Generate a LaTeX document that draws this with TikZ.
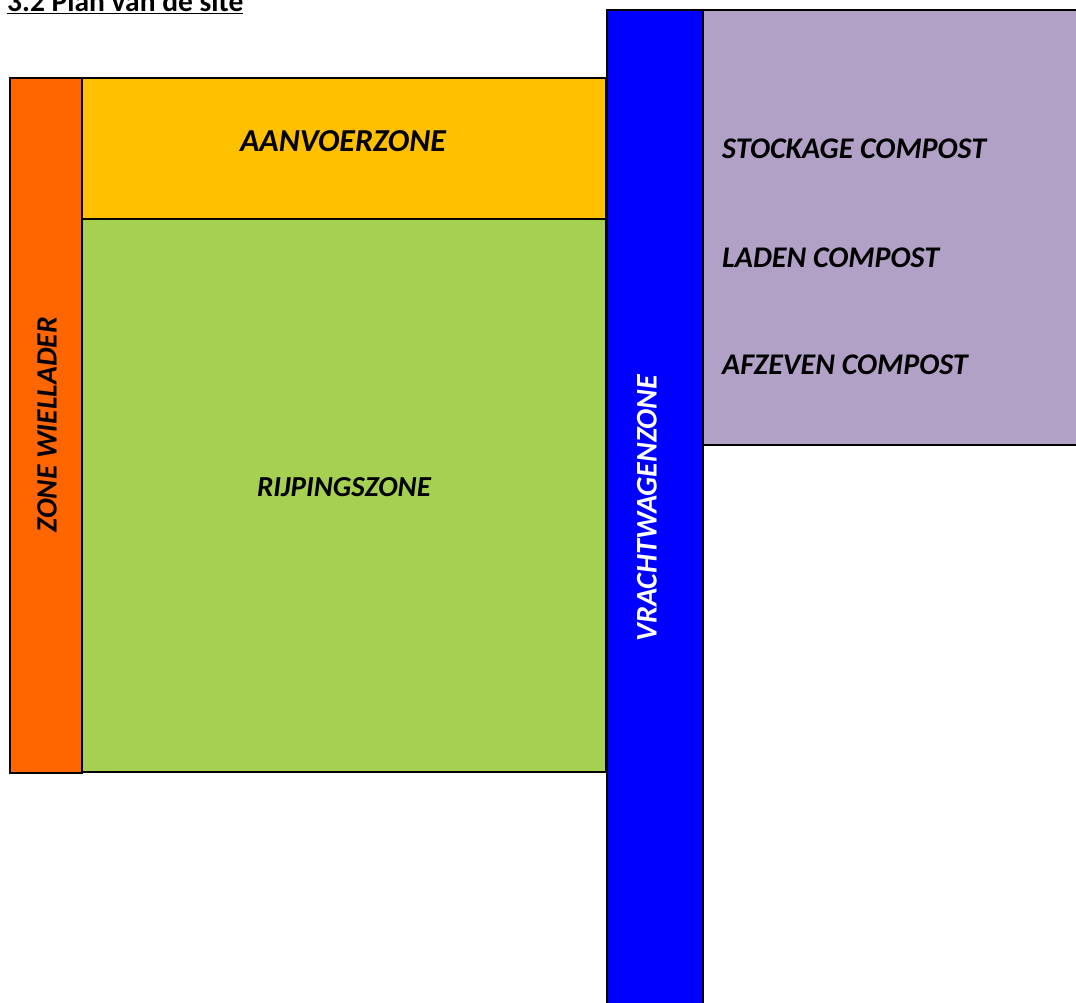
\documentclass[tikz,border=0pt]{standalone}
\usepackage{fontspec}
\setmainfont{Carlito}
\usetikzlibrary{positioning}
\tikzset{zone/.style = {draw = black, line width = 2},
         lbl/.style = {font = \bfseries\itshape\fontsize{30}{34}\selectfont, inner sep = 0}}
\definecolor{morange}{RGB}{255, 102, 0}
\definecolor{myellow}{RGB}{255, 192, 0}
\definecolor{mgreen}{RGB}{166, 208, 82}
\definecolor{mblue}{RGB}{0, 0, 255}
\definecolor{mpurple}{RGB}{177, 161, 199}

\begin{document}
\begin{tikzpicture}[x = 1pt, y = -1pt]
       \useasboundingbox (0, 0) rectangle (1076, 1003);

       \node [anchor = base west, inner sep = 0, font = \bfseries\fontsize{29.5}{34}\selectfont] (title) at (7, 12) {\underline{3.2 Plan van de site}};

       \draw [zone, fill = myellow] (82, 78) rectangle (606, 219);
       \draw [zone, fill = mgreen] (82, 219) rectangle (606, 772);
       \draw [zone, fill = morange] (10, 78) rectangle (82, 773);
       \draw [zone, fill = mpurple] (703, 10) rectangle (1080, 445);
       \draw [zone, fill = mblue] (607, 10) rectangle (703, 1010);

       \node [lbl, font = \bfseries\itshape\fontsize{32}{36}\selectfont] (aanvoer) at (343, 141) {AANVOERZONE};
       \node [lbl, font = \bfseries\itshape\fontsize{29}{33}\selectfont] (rijping) at (344, 487) {RIJPINGSZONE};
       \node [lbl, rotate = 90, font = \bfseries\itshape\fontsize{29.5}{34}\selectfont] (wiellader) at (47, 425) {ZONE WIELLADER};
       \node [lbl, rotate = 90, white] (vracht) at (647, 508) {VRACHTWAGENZONE};

       \node [lbl, anchor = west] (stockage) at (722, 149) {STOCKAGE COMPOST};
       \node [lbl, anchor = west] (laden) at (722, 258) {LADEN COMPOST};
       \node [lbl, anchor = west] (afzeven) at (722, 365) {AFZEVEN COMPOST};
    \end{tikzpicture}
\end{document}
